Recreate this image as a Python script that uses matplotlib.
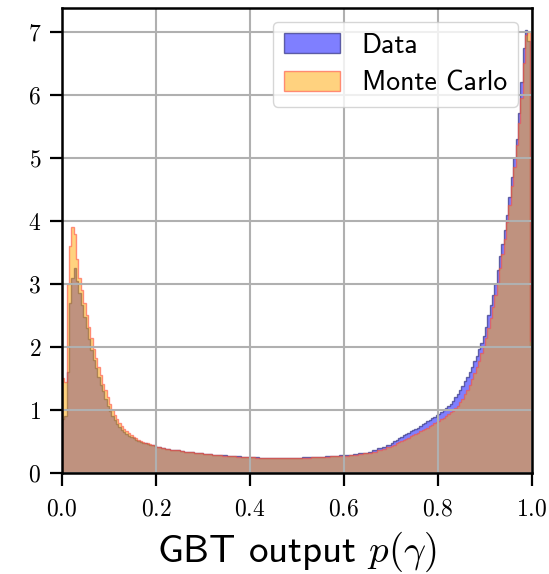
import numpy as np
import matplotlib
matplotlib.use("Agg")
import matplotlib.pyplot as plt
from matplotlib.ticker import MultipleLocator

plt.rcParams['mathtext.fontset'] = 'cm'
plt.rcParams['axes.formatter.use_mathtext'] = True

# bin edges: fine bins near both peaks, coarser in the flat middle
bin_edges = ([round(0.005 * i, 3) for i in range(0, 40)]
             + [round(0.2 + 0.01 * i, 3) for i in range(0, 50)]
             + [round(0.7 + 0.005 * i, 3) for i in range(0, 61)])

# normalised counts
data_left = [
    0.85, 0.90, 1.60, 2.70, 3.10, 3.25, 3.05, 2.85, 2.67, 2.48,
    2.30, 2.12, 1.95, 1.80, 1.66, 1.53, 1.40, 1.30, 1.18, 1.07,
    0.98, 0.90, 0.84, 0.78, 0.73, 0.69, 0.65, 0.62, 0.59, 0.57,
    0.55, 0.53, 0.51, 0.495, 0.48, 0.47, 0.46, 0.45, 0.44, 0.43,
]
data_mid = [
    0.41, 0.39, 0.38, 0.37, 0.36, 0.35, 0.34, 0.33, 0.325, 0.31,
    0.30, 0.295, 0.29, 0.285, 0.28, 0.275, 0.27, 0.265, 0.26, 0.255,
    0.25, 0.25, 0.245, 0.24, 0.245, 0.24, 0.235, 0.24, 0.24, 0.245,
    0.245, 0.25, 0.255, 0.25, 0.255, 0.26, 0.265, 0.275, 0.275, 0.28,
    0.285, 0.29, 0.30, 0.31, 0.32, 0.34, 0.36, 0.39, 0.42, 0.45,
]
data_right = [
    0.48, 0.50, 0.53, 0.55, 0.57, 0.60, 0.62, 0.64, 0.66, 0.68,
    0.70, 0.72, 0.74, 0.77, 0.79, 0.82, 0.84, 0.87, 0.89, 0.92,
    0.94, 0.97, 1.00, 1.03, 1.06, 1.10, 1.15, 1.20, 1.25, 1.31,
    1.38, 1.46, 1.53, 1.60, 1.68, 1.77, 1.86, 1.96, 2.07, 2.18,
    2.32, 2.50, 2.66, 2.82, 3.00, 3.22, 3.45, 3.63, 3.85, 4.10,
    4.38, 4.70, 5.00, 5.30, 5.72, 6.20, 6.75, 7.03, 6.85, 2.00,
]
mc_left = [
    1.50, 1.45, 3.00, 3.60, 3.90, 3.80, 3.40, 3.10, 2.90, 2.70,
    2.50, 2.32, 2.14, 1.97, 1.82, 1.68, 1.55, 1.42, 1.31, 1.20,
    1.09, 1.00, 0.92, 0.85, 0.79, 0.74, 0.70, 0.66, 0.63, 0.60,
    0.57, 0.55, 0.53, 0.51, 0.495, 0.48, 0.47, 0.46, 0.45, 0.44,
]
mc_mid = [
    0.42, 0.40, 0.385, 0.37, 0.36, 0.35, 0.34, 0.33, 0.32, 0.31,
    0.30, 0.295, 0.29, 0.28, 0.275, 0.27, 0.265, 0.26, 0.255, 0.25,
    0.25, 0.245, 0.24, 0.24, 0.235, 0.235, 0.235, 0.235, 0.24, 0.24,
    0.24, 0.245, 0.245, 0.25, 0.25, 0.255, 0.26, 0.265, 0.27, 0.27,
    0.275, 0.28, 0.29, 0.30, 0.31, 0.32, 0.34, 0.36, 0.38, 0.41,
]
mc_right = [
    0.43, 0.45, 0.47, 0.49, 0.50, 0.52, 0.54, 0.56, 0.58, 0.60,
    0.62, 0.64, 0.66, 0.68, 0.70, 0.72, 0.74, 0.76, 0.79, 0.81,
    0.83, 0.85, 0.87, 0.90, 0.93, 0.96, 0.99, 1.03, 1.07, 1.12,
    1.18, 1.25, 1.32, 1.40, 1.49, 1.58, 1.68, 1.78, 1.90, 2.02,
    2.15, 2.30, 2.46, 2.63, 2.82, 3.02, 3.25, 3.48, 3.72, 3.98,
    4.25, 4.55, 4.85, 5.20, 5.55, 5.95, 6.50, 6.95, 7.00, 2.10,
]
labels = ["Data", "Monte Carlo"]

data_vals = data_left + data_mid + data_right
mc_vals = mc_left + mc_mid + mc_right

edges = np.array(bin_edges)
centers = 0.5 * (edges[:-1] + edges[1:])

fig = plt.figure(figsize=(5.49, 5.74), dpi=100)
ax = fig.add_axes([0.113, 0.176, 0.856, 0.810])

ax.hist(centers, bins=edges, weights=data_vals, histtype='stepfilled',
        facecolor=(0, 0, 1, 0.5), edgecolor=(0.2, 0.2, 0.5, 0.7),
        linewidth=1.0, label=labels[0])
ax.hist(centers, bins=edges, weights=mc_vals, histtype='stepfilled',
        facecolor=(1, 0.65, 0, 0.5), edgecolor=(1, 0.3, 0.25, 0.6),
        linewidth=1.0, label=labels[1])

ax.set_xlim(0, 1)
ax.set_ylim(0, 7.38)
ax.xaxis.set_major_locator(MultipleLocator(0.2))
ax.yaxis.set_major_locator(MultipleLocator(1))
ax.grid(True, color='#b0b0b0', linewidth=1.5)

for lab in ax.get_xticklabels() + ax.get_yticklabels():
    lab.set_fontfamily('cmr10')
    lab.set_fontsize(17)
ax.tick_params(length=9, width=1.6, pad=6)
ax.tick_params(axis='x', pad=9)
for sp in ax.spines.values():
    sp.set_linewidth(1.8)

ax.set_xlabel(r"GBT output $p(\gamma)$", fontfamily='cmss10', fontsize=28, labelpad=7)

ax.legend(loc='upper right', prop={'family': 'cmss10', 'size': 20},
          handlelength=2.0, handleheight=0.72, handletextpad=0.8,
          labelspacing=0.45, borderaxespad=0.5)

fig.savefig("out.png", dpi=100)
